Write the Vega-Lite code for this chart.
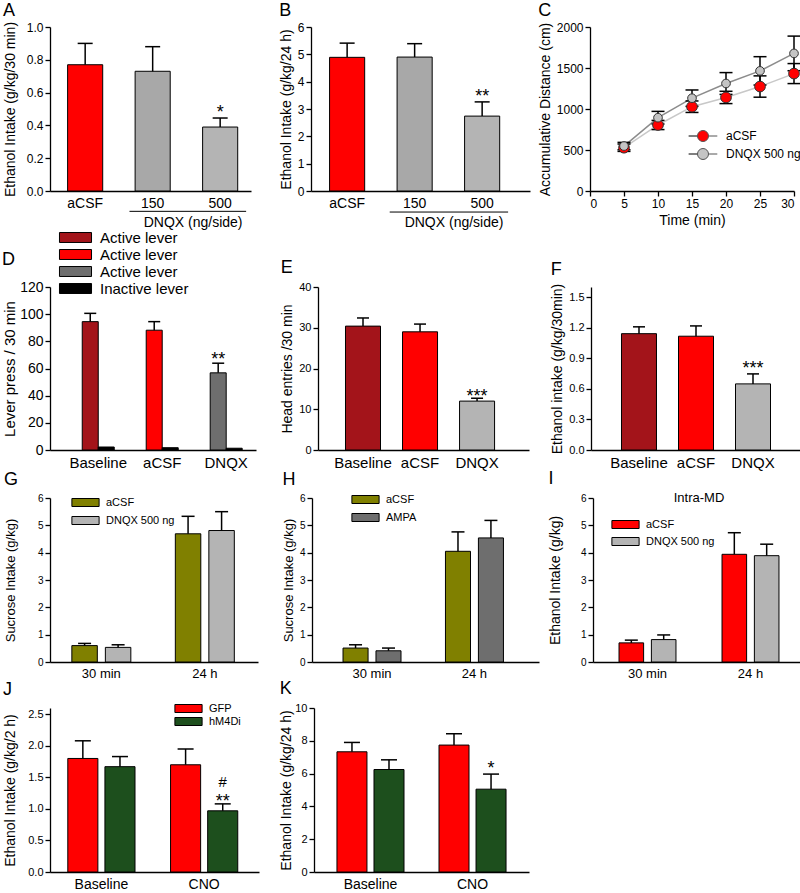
{
  "$schema": "https://vega.github.io/schema/vega-lite/v6.json",
  "padding": {"left": 2, "top": 2, "right": 0, "bottom": 0},
  "spacing": 0,
  "resolve": {"scale": {"fill": "independent", "stroke": "independent", "size": "independent", "xOffset": "independent"}, "legend": {"fill": "independent", "stroke": "independent", "size": "independent"}},
  "config": {
    "font": "Liberation Sans",
    "view": {"stroke": null},
    "axis": {"grid": false, "domainColor": "black", "domainWidth": 1.3, "tickColor": "black", "tickWidth": 1.3, "tickSize": 5, "labelColor": "black", "titleColor": "black", "titleFontWeight": "normal", "labelFontSize": 11, "titleFontSize": 14, "labelPadding": 2},
    "axisBand": {"ticks": false, "labelAngle": 0, "labelPadding": 5, "labelFontSize": 14},
    "title": {"fontSize": 18, "fontWeight": "normal", "anchor": "start", "frame": "bounds", "offset": 4, "color": "black"},
    "legend": {"labelColor": "black", "padding": 0, "titlePadding": 0},
    "bar": {"stroke": "black", "strokeWidth": 1},
    "tick": {"color": "black", "thickness": 1.5, "opacity": 1},
    "rule": {"color": "black", "strokeWidth": 1.5},
    "text": {"color": "black"}
  },
  "vconcat": [
    {
      "hconcat": [
        {
          "width": 201, "height": 164,
          "title": {"text": "A", "offset": 1},
          "data": {"values": [
            {"group": "aCSF", "mean": 0.77, "upper": 0.90},
            {"group": "150", "mean": 0.73, "upper": 0.88},
            {"group": "500", "mean": 0.39, "upper": 0.445, "sig": "*"}
          ]},
          "encoding": {"x": {"field": "group", "type": "nominal", "sort": null, "scale": {"paddingInner": 0.48, "paddingOuter": 0.229, "align": 0.57}, "axis": {"title": null}}},
          "layer": [
            {"mark": "bar", "encoding": {
              "y": {"field": "mean", "type": "quantitative", "scale": {"domain": [0, 1]}, "axis": {"title": "Ethanol Intake (g/kg/30 min)", "values": [0, 0.2, 0.4, 0.6, 0.8, 1], "format": ".1f", "labelFontSize": 12, "minExtent": 30, "maxExtent": 30, "titlePadding": 3}},
              "fill": {"field": "group", "type": "nominal", "scale": {"domain": ["aCSF", "150", "500"], "range": ["#ff0000", "#a8a8a8", "#b4b4b4"]}, "legend": null}}},
            {"mark": "rule", "encoding": {"y": {"field": "mean", "type": "quantitative", "axis": {"title": "Ethanol Intake (g/kg/30 min)", "values": [0, 0.2, 0.4, 0.6, 0.8, 1], "format": ".1f", "labelFontSize": 12, "minExtent": 30, "maxExtent": 30, "titlePadding": 3}}, "y2": {"field": "upper"}}},
            {"mark": {"type": "tick", "orient": "horizontal", "size": 15}, "encoding": {"y": {"field": "upper", "type": "quantitative", "axis": {"title": "Ethanol Intake (g/kg/30 min)", "values": [0, 0.2, 0.4, 0.6, 0.8, 1], "format": ".1f", "labelFontSize": 12, "minExtent": 30, "maxExtent": 30, "titlePadding": 3}}}},
            {"transform": [{"filter": "isValid(datum.sig)"}], "mark": {"type": "text", "fontSize": 18, "baseline": "alphabetic", "dy": 0}, "encoding": {"y": {"field": "upper", "type": "quantitative", "axis": {"title": "Ethanol Intake (g/kg/30 min)", "values": [0, 0.2, 0.4, 0.6, 0.8, 1], "format": ".1f", "labelFontSize": 12, "minExtent": 30, "maxExtent": 30, "titlePadding": 3}}, "text": {"field": "sig"}}},
            {"data": {"values": [{"label": "DNQX (ng/side)"}]}, "mark": {"type": "rule", "strokeWidth": 1}, "encoding": {"x": {"datum": "150", "bandPosition": -0.16}, "x2": {"datum": "500", "bandPosition": 1.24}, "y": {"datum": -0.124, "type": "quantitative", "axis": {"title": "Ethanol Intake (g/kg/30 min)", "values": [0, 0.2, 0.4, 0.6, 0.8, 1], "format": ".1f", "labelFontSize": 12, "minExtent": 30, "maxExtent": 30, "titlePadding": 3}}}},
            {"data": {"values": [{"label": "DNQX (ng/side)"}]}, "mark": {"type": "text", "baseline": "top", "fontSize": 14}, "encoding": {"x": {"datum": "500", "bandPosition": -0.27}, "y": {"datum": -0.15, "type": "quantitative", "axis": {"title": "Ethanol Intake (g/kg/30 min)", "values": [0, 0.2, 0.4, 0.6, 0.8, 1], "format": ".1f", "labelFontSize": 12, "minExtent": 30, "maxExtent": 30, "titlePadding": 3}}, "text": {"field": "label"}}}
          ]
        },
        {
          "width": 219, "height": 164,
          "title": {"text": "B", "offset": 1},
          "data": {"values": [
            {"group": "aCSF", "mean": 4.89, "upper": 5.41},
            {"group": "150", "mean": 4.90, "upper": 5.39},
            {"group": "500", "mean": 2.74, "upper": 3.26, "sig": "**"}
          ]},
          "encoding": {"x": {"field": "group", "type": "nominal", "sort": null, "scale": {"paddingInner": 0.48, "paddingOuter": 0.362, "align": 0.38}, "axis": {"title": null}}},
          "layer": [
            {"mark": "bar", "encoding": {
              "y": {"field": "mean", "type": "quantitative", "scale": {"domain": [0, 6]}, "axis": {"title": "Ethanol Intake (g/kg/24 h)", "values": [0, 1, 2, 3, 4, 5, 6], "labelFontSize": 12}},
              "fill": {"field": "group", "type": "nominal", "scale": {"domain": ["aCSF", "150", "500"], "range": ["#ff0000", "#a8a8a8", "#b4b4b4"]}, "legend": null}}},
            {"mark": "rule", "encoding": {"y": {"field": "mean", "type": "quantitative", "axis": {"title": "Ethanol Intake (g/kg/24 h)", "values": [0, 1, 2, 3, 4, 5, 6], "labelFontSize": 12}}, "y2": {"field": "upper"}}},
            {"mark": {"type": "tick", "orient": "horizontal", "size": 15}, "encoding": {"y": {"field": "upper", "type": "quantitative", "axis": {"title": "Ethanol Intake (g/kg/24 h)", "values": [0, 1, 2, 3, 4, 5, 6], "labelFontSize": 12}}}},
            {"transform": [{"filter": "isValid(datum.sig)"}], "mark": {"type": "text", "fontSize": 18, "baseline": "alphabetic", "dy": 0}, "encoding": {"y": {"field": "upper", "type": "quantitative", "axis": {"title": "Ethanol Intake (g/kg/24 h)", "values": [0, 1, 2, 3, 4, 5, 6], "labelFontSize": 12}}, "text": {"field": "sig"}}},
            {"data": {"values": [{"label": "DNQX (ng/side)"}]}, "mark": {"type": "rule", "strokeWidth": 1}, "encoding": {"x": {"datum": "150", "bandPosition": -0.21}, "x2": {"datum": "500", "bandPosition": 1.24}, "y": {"datum": -0.77, "type": "quantitative", "axis": {"title": "Ethanol Intake (g/kg/24 h)", "values": [0, 1, 2, 3, 4, 5, 6], "labelFontSize": 12}}}},
            {"data": {"values": [{"label": "DNQX (ng/side)"}]}, "mark": {"type": "text", "baseline": "top", "fontSize": 14}, "encoding": {"x": {"datum": "500", "bandPosition": -0.3}, "y": {"datum": -0.9, "type": "quantitative", "axis": {"title": "Ethanol Intake (g/kg/24 h)", "values": [0, 1, 2, 3, 4, 5, 6], "labelFontSize": 12}}, "text": {"field": "label"}}}
          ]
        },
        {
          "width": 204, "height": 164,
          "title": {"text": "C", "offset": 1},
          "data": {"values": [
            {"time": 5, "group": "aCSF", "mean": 528, "lower": 483, "upper": 573},
            {"time": 10, "group": "aCSF", "mean": 805, "lower": 749, "upper": 861},
            {"time": 15, "group": "aCSF", "mean": 1028, "lower": 958, "upper": 1098},
            {"time": 20, "group": "aCSF", "mean": 1141, "lower": 1066, "upper": 1216},
            {"time": 25, "group": "aCSF", "mean": 1274, "lower": 1144, "upper": 1404},
            {"time": 30, "group": "aCSF", "mean": 1432, "lower": 1310, "upper": 1554},
            {"time": 5, "group": "DNQX 500 ng", "mean": 548, "lower": 503, "upper": 593},
            {"time": 10, "group": "DNQX 500 ng", "mean": 894, "lower": 817, "upper": 971},
            {"time": 15, "group": "DNQX 500 ng", "mean": 1132, "lower": 1032, "upper": 1232},
            {"time": 20, "group": "DNQX 500 ng", "mean": 1311, "lower": 1178, "upper": 1444},
            {"time": 25, "group": "DNQX 500 ng", "mean": 1465, "lower": 1292, "upper": 1638},
            {"time": 30, "group": "DNQX 500 ng", "mean": 1678, "lower": 1467, "upper": 1889}
          ]},
          "encoding": {"x": {"field": "time", "type": "quantitative", "scale": {"domain": [0, 30]}, "axis": {"title": "Time (min)", "values": [0, 5, 10, 15, 20, 25, 30], "labelFontSize": 12, "titlePadding": 4}}},
          "layer": [
            {"transform": [{"filter": "datum.group == 'aCSF'"}], "mark": {"type": "line", "strokeWidth": 1.5, "stroke": "#c8c8c8"}, "encoding": {
              "y": {"field": "mean", "type": "quantitative", "scale": {"domain": [0, 2000]}, "axis": {"title": "Accumulative Distance (cm)", "values": [0, 500, 1000, 1500, 2000], "format": "d", "labelFontSize": 12}}}},
            {"transform": [{"filter": "datum.group == 'DNQX 500 ng'"}], "mark": {"type": "line", "strokeWidth": 1.5, "stroke": "#8c8c8c"}, "encoding": {
              "y": {"field": "mean", "type": "quantitative", "axis": {"title": "Accumulative Distance (cm)", "values": [0, 500, 1000, 1500, 2000], "format": "d", "labelFontSize": 12}}}},
            {"mark": "rule", "encoding": {"y": {"field": "lower", "type": "quantitative", "axis": {"title": "Accumulative Distance (cm)", "values": [0, 500, 1000, 1500, 2000], "format": "d", "labelFontSize": 12}}, "y2": {"field": "upper"}}},
            {"mark": {"type": "tick", "orient": "horizontal", "size": 13}, "encoding": {"y": {"field": "upper", "type": "quantitative", "axis": {"title": "Accumulative Distance (cm)", "values": [0, 500, 1000, 1500, 2000], "format": "d", "labelFontSize": 12}}}},
            {"mark": {"type": "tick", "orient": "horizontal", "size": 13}, "encoding": {"y": {"field": "lower", "type": "quantitative", "axis": {"title": "Accumulative Distance (cm)", "values": [0, 500, 1000, 1500, 2000], "format": "d", "labelFontSize": 12}}}},
            {"transform": [{"filter": "datum.group == 'aCSF'"}], "mark": {"type": "point", "filled": true, "opacity": 1, "stroke": "#333333", "strokeWidth": 1, "size": 115}, "encoding": {
              "y": {"field": "mean", "type": "quantitative", "axis": {"title": "Accumulative Distance (cm)", "values": [0, 500, 1000, 1500, 2000], "format": "d", "labelFontSize": 12}},
              "fill": {"field": "group", "type": "nominal", "scale": {"domain": ["aCSF", "DNQX 500 ng"], "range": ["#ff0000", "#c4c4c4"]}, "legend": {"title": null, "orient": "none", "legendX": 107, "legendY": 103, "symbolType": "M-2.6,0H-1A1,1 0 1,1 1,0A1,1 0 1,1 -1,0ZM1,0H2.6", "symbolSize": 121, "symbolStrokeColor": "#555555", "symbolStrokeWidth": 1, "labelFontSize": 12, "labelOffset": 17, "rowPadding": 2}}}},
            {"transform": [{"filter": "datum.group == 'DNQX 500 ng'"}], "mark": {"type": "point", "filled": true, "opacity": 1, "stroke": "#333333", "strokeWidth": 1, "size": 75}, "encoding": {
              "y": {"field": "mean", "type": "quantitative", "axis": {"title": "Accumulative Distance (cm)", "values": [0, 500, 1000, 1500, 2000], "format": "d", "labelFontSize": 12}},
              "fill": {"field": "group", "type": "nominal", "scale": {"domain": ["aCSF", "DNQX 500 ng"], "range": ["#ff0000", "#c4c4c4"]}, "legend": {"title": null, "orient": "none", "legendX": 107, "legendY": 103, "symbolType": "M-2.6,0H-1A1,1 0 1,1 1,0A1,1 0 1,1 -1,0ZM1,0H2.6", "symbolSize": 121, "symbolStrokeColor": "#555555", "symbolStrokeWidth": 1, "labelFontSize": 12, "labelOffset": 17, "rowPadding": 2}}}}
          ]
        }
      ],
      "spacing": 60,
      "bounds": "flush",
      "resolve": {"scale": {"fill": "independent", "stroke": "independent", "size": "independent", "xOffset": "independent"}, "legend": {"fill": "independent", "stroke": "independent", "size": "independent"}}
    },
    {
      "hconcat": [
        {
          "width": 206, "height": 163,
          "title": {"text": "D", "offset": -39},
          "data": {"values": [
            {"cond": "Baseline", "lever": "Active", "series": "Baseline active", "mean": 94.5, "upper": 100.6},
            {"cond": "Baseline", "lever": "Inactive", "series": "Inactive lever", "mean": 2.2},
            {"cond": "aCSF", "lever": "Active", "series": "aCSF active", "mean": 88.2, "upper": 94.5},
            {"cond": "aCSF", "lever": "Inactive", "series": "Inactive lever", "mean": 1.7},
            {"cond": "DNQX", "lever": "Active", "series": "DNQX active", "mean": 56.8, "upper": 63.9, "sig": "**"},
            {"cond": "DNQX", "lever": "Inactive", "series": "Inactive lever", "mean": 1.3}
          ]},
          "encoding": {
            "x": {"field": "cond", "type": "nominal", "sort": null, "scale": {"paddingInner": 0.5, "paddingOuter": 0.36, "align": 0.7}, "axis": {"title": null, "labelFontSize": 15}},
            "xOffset": {"field": "lever", "type": "nominal", "sort": null, "scale": {"paddingInner": 0, "paddingOuter": 0}}
          },
          "layer": [
            {"mark": "bar", "encoding": {
              "y": {"field": "mean", "type": "quantitative", "scale": {"domain": [0, 120]}, "axis": {"title": "Lever press / 30 min", "values": [0, 20, 40, 60, 80, 100, 120], "labelFontSize": 14, "titleFontSize": 15, "minExtent": 30, "maxExtent": 30, "titlePadding": 3}},
              "fill": {"field": "series", "type": "nominal", "scale": {"domain": ["Baseline active", "aCSF active", "DNQX active", "Inactive lever"], "range": ["#a3141a", "#ff0000", "#6e6e6e", "#000000"]}, "legend": {"title": null, "orient": "none", "legendX": 18, "legendY": -57, "symbolType": "M-2.29,-0.71H2.29V0.71H-2.29Z", "symbolSize": 196, "symbolStrokeColor": "black", "symbolStrokeWidth": 1, "labelFontSize": 15, "labelOffset": 17, "rowPadding": 1, "labelExpr": "datum.label == 'Inactive lever' ? 'Inactive lever' : 'Active lever'"}}}},
            {"transform": [{"filter": "isValid(datum.upper)"}], "mark": "rule", "encoding": {"y": {"field": "mean", "type": "quantitative", "axis": {"title": "Lever press / 30 min", "values": [0, 20, 40, 60, 80, 100, 120], "labelFontSize": 14, "titleFontSize": 15, "minExtent": 30, "maxExtent": 30, "titlePadding": 3}}, "y2": {"field": "upper"}}},
            {"transform": [{"filter": "isValid(datum.upper)"}], "mark": {"type": "tick", "orient": "horizontal", "size": 12}, "encoding": {"y": {"field": "upper", "type": "quantitative", "axis": {"title": "Lever press / 30 min", "values": [0, 20, 40, 60, 80, 100, 120], "labelFontSize": 14, "titleFontSize": 15, "minExtent": 30, "maxExtent": 30, "titlePadding": 3}}}},
            {"transform": [{"filter": "isValid(datum.sig)"}], "mark": {"type": "text", "fontSize": 18, "baseline": "alphabetic", "dy": 2}, "encoding": {"y": {"field": "upper", "type": "quantitative", "axis": {"title": "Lever press / 30 min", "values": [0, 20, 40, 60, 80, 100, 120], "labelFontSize": 14, "titleFontSize": 15, "minExtent": 30, "maxExtent": 30, "titlePadding": 3}}, "text": {"field": "sig"}}}
          ]
        },
        {
          "width": 211, "height": 163,
          "title": {"text": "E"},
          "data": {"values": [
            {"cond": "Baseline", "mean": 30.4, "upper": 32.4},
            {"cond": "aCSF", "mean": 29.0, "upper": 30.9},
            {"cond": "DNQX", "mean": 12.0, "upper": 12.7, "sig": "***"}
          ]},
          "encoding": {"x": {"field": "cond", "type": "nominal", "sort": null, "scale": {"paddingInner": 0.386, "paddingOuter": 0.543, "align": 0.444}, "axis": {"title": null, "labelFontSize": 15}}},
          "layer": [
            {"mark": "bar", "encoding": {
              "y": {"field": "mean", "type": "quantitative", "scale": {"domain": [0, 40]}, "axis": {"title": "Head entries /30 min", "values": [0, 10, 20, 30, 40], "labelFontSize": 11}},
              "fill": {"field": "cond", "type": "nominal", "scale": {"domain": ["Baseline", "aCSF", "DNQX"], "range": ["#a3141a", "#ff0000", "#b4b4b4"]}, "legend": null}}},
            {"mark": "rule", "encoding": {"y": {"field": "mean", "type": "quantitative", "axis": {"title": "Head entries /30 min", "values": [0, 10, 20, 30, 40], "labelFontSize": 11}}, "y2": {"field": "upper"}}},
            {"mark": {"type": "tick", "orient": "horizontal", "size": 12}, "encoding": {"y": {"field": "upper", "type": "quantitative", "axis": {"title": "Head entries /30 min", "values": [0, 10, 20, 30, 40], "labelFontSize": 11}}}},
            {"transform": [{"filter": "isValid(datum.sig)"}], "mark": {"type": "text", "fontSize": 18, "baseline": "alphabetic", "dy": 4}, "encoding": {"y": {"field": "upper", "type": "quantitative", "axis": {"title": "Head entries /30 min", "values": [0, 10, 20, 30, 40], "labelFontSize": 11}}, "text": {"field": "sig"}}}
          ]
        },
        {
          "width": 210, "height": 163,
          "title": {"text": "F"},
          "data": {"values": [
            {"cond": "Baseline", "mean": 1.142, "upper": 1.209},
            {"cond": "aCSF", "mean": 1.117, "upper": 1.218},
            {"cond": "DNQX", "mean": 0.649, "upper": 0.747, "sig": "***"}
          ]},
          "encoding": {"x": {"field": "cond", "type": "nominal", "sort": null, "scale": {"paddingInner": 0.386, "paddingOuter": 0.535, "align": 0.5}, "axis": {"title": null, "labelFontSize": 15}}},
          "layer": [
            {"mark": "bar", "encoding": {
              "y": {"field": "mean", "type": "quantitative", "scale": {"domain": [0, 1.5]}, "axis": {"title": "Ethanol intake (g/kg/30min)", "values": [0, 0.3, 0.6, 0.9, 1.2, 1.5], "format": ".1f", "labelFontSize": 11}},
              "fill": {"field": "cond", "type": "nominal", "scale": {"domain": ["Baseline", "aCSF", "DNQX"], "range": ["#a3141a", "#ff0000", "#b4b4b4"]}, "legend": null}}},
            {"mark": "rule", "encoding": {"y": {"field": "mean", "type": "quantitative", "axis": {"title": "Ethanol intake (g/kg/30min)", "values": [0, 0.3, 0.6, 0.9, 1.2, 1.5], "format": ".1f", "labelFontSize": 11}}, "y2": {"field": "upper"}}},
            {"mark": {"type": "tick", "orient": "horizontal", "size": 12}, "encoding": {"y": {"field": "upper", "type": "quantitative", "axis": {"title": "Ethanol intake (g/kg/30min)", "values": [0, 0.3, 0.6, 0.9, 1.2, 1.5], "format": ".1f", "labelFontSize": 11}}}},
            {"transform": [{"filter": "isValid(datum.sig)"}], "mark": {"type": "text", "fontSize": 18, "baseline": "alphabetic", "dy": 0}, "encoding": {"y": {"field": "upper", "type": "quantitative", "axis": {"title": "Ethanol intake (g/kg/30min)", "values": [0, 0.3, 0.6, 0.9, 1.2, 1.5], "format": ".1f", "labelFontSize": 11}}, "text": {"field": "sig"}}}
          ]
        }
      ],
      "spacing": 62,
      "bounds": "flush",
      "resolve": {"scale": {"fill": "independent", "stroke": "independent", "size": "independent", "xOffset": "independent"}, "legend": {"fill": "independent", "stroke": "independent", "size": "independent"}}
    },
    {
      "hconcat": [
        {
          "width": 208, "height": 164,
          "title": {"text": "G"},
          "data": {"values": [
            {"time": "30 min", "treat": "aCSF", "mean": 0.60, "upper": 0.68},
            {"time": "30 min", "treat": "DNQX 500 ng", "mean": 0.535, "upper": 0.63},
            {"time": "24 h", "treat": "aCSF", "mean": 4.69, "upper": 5.33},
            {"time": "24 h", "treat": "DNQX 500 ng", "mean": 4.81, "upper": 5.50}
          ]},
          "encoding": {
            "x": {"field": "time", "type": "nominal", "sort": null, "scale": {"paddingInner": 0.43, "paddingOuter": 0.22, "align": 0.48}, "axis": {"title": null, "labelFontSize": 13}},
            "xOffset": {"field": "treat", "type": "nominal", "sort": null, "scale": {"paddingInner": 0.24, "paddingOuter": 0}}
          },
          "layer": [
            {"mark": "bar", "encoding": {
              "y": {"field": "mean", "type": "quantitative", "scale": {"domain": [0, 6]}, "axis": {"title": "Sucrose Intake (g/kg)", "values": [0, 1, 2, 3, 4, 5, 6], "labelFontSize": 10, "titleFontSize": 13, "minExtent": 30, "maxExtent": 30, "titlePadding": 3}},
              "fill": {"field": "treat", "type": "nominal", "scale": {"domain": ["aCSF", "DNQX 500 ng"], "range": ["#808000", "#b4b4b4"]}, "legend": {"title": null, "orient": "none", "legendX": 30, "legendY": -1, "symbolType": "M-3.4,-1H3.4V1H-3.4Z", "symbolSize": 64, "symbolStrokeColor": "black", "symbolStrokeWidth": 1, "labelFontSize": 11, "labelOffset": 15, "rowPadding": 5}}}},
            {"mark": "rule", "encoding": {"y": {"field": "mean", "type": "quantitative", "axis": {"title": "Sucrose Intake (g/kg)", "values": [0, 1, 2, 3, 4, 5, 6], "labelFontSize": 10, "titleFontSize": 13, "minExtent": 30, "maxExtent": 30, "titlePadding": 3}}, "y2": {"field": "upper"}}},
            {"mark": {"type": "tick", "orient": "horizontal", "size": 13}, "encoding": {"y": {"field": "upper", "type": "quantitative", "axis": {"title": "Sucrose Intake (g/kg)", "values": [0, 1, 2, 3, 4, 5, 6], "labelFontSize": 10, "titleFontSize": 13, "minExtent": 30, "maxExtent": 30, "titlePadding": 3}}}}
          ]
        },
        {
          "width": 227, "height": 164,
          "title": {"text": "H"},
          "data": {"values": [
            {"time": "30 min", "treat": "aCSF", "mean": 0.51, "upper": 0.63},
            {"time": "30 min", "treat": "AMPA", "mean": 0.41, "upper": 0.51},
            {"time": "24 h", "treat": "aCSF", "mean": 4.05, "upper": 4.76},
            {"time": "24 h", "treat": "AMPA", "mean": 4.54, "upper": 5.18}
          ]},
          "encoding": {
            "x": {"field": "time", "type": "nominal", "sort": null, "scale": {"paddingInner": 0.434, "paddingOuter": 0.325, "align": 0.466}, "axis": {"title": null, "labelFontSize": 13}},
            "xOffset": {"field": "treat", "type": "nominal", "sort": null, "scale": {"paddingInner": 0.24, "paddingOuter": 0}}
          },
          "layer": [
            {"mark": "bar", "encoding": {
              "y": {"field": "mean", "type": "quantitative", "scale": {"domain": [0, 6]}, "axis": {"title": "Sucrose Intake (g/kg)", "values": [0, 1, 2, 3, 4, 5, 6], "labelFontSize": 10, "titleFontSize": 13}},
              "fill": {"field": "treat", "type": "nominal", "scale": {"domain": ["aCSF", "AMPA"], "range": ["#808000", "#6e6e6e"]}, "legend": {"title": null, "orient": "none", "legendX": 48, "legendY": -4, "symbolType": "M-3.4,-1H3.4V1H-3.4Z", "symbolSize": 64, "symbolStrokeColor": "black", "symbolStrokeWidth": 1, "labelFontSize": 11, "labelOffset": 15, "rowPadding": 5}}}},
            {"mark": "rule", "encoding": {"y": {"field": "mean", "type": "quantitative", "axis": {"title": "Sucrose Intake (g/kg)", "values": [0, 1, 2, 3, 4, 5, 6], "labelFontSize": 10, "titleFontSize": 13}}, "y2": {"field": "upper"}}},
            {"mark": {"type": "tick", "orient": "horizontal", "size": 13}, "encoding": {"y": {"field": "upper", "type": "quantitative", "axis": {"title": "Sucrose Intake (g/kg)", "values": [0, 1, 2, 3, 4, 5, 6], "labelFontSize": 10, "titleFontSize": 13}}}}
          ]
        },
        {
          "width": 210, "height": 164,
          "title": {"text": "I"},
          "data": {"values": [
            {"time": "30 min", "treat": "aCSF", "mean": 0.70, "upper": 0.80},
            {"time": "30 min", "treat": "DNQX 500 ng", "mean": 0.82, "upper": 0.99},
            {"time": "24 h", "treat": "aCSF", "mean": 3.94, "upper": 4.73},
            {"time": "24 h", "treat": "DNQX 500 ng", "mean": 3.89, "upper": 4.31}
          ]},
          "encoding": {
            "x": {"field": "time", "type": "nominal", "sort": null, "scale": {"paddingInner": 0.447, "paddingOuter": 0.243, "align": 0.52}, "axis": {"title": null, "labelFontSize": 13}}
          },
          "layer": [
            {"mark": "bar", "encoding": {
              "xOffset": {"field": "treat", "type": "nominal", "sort": null, "scale": {"paddingInner": 0.24, "paddingOuter": 0}},
              "y": {"field": "mean", "type": "quantitative", "scale": {"domain": [0, 6]}, "axis": {"title": "Ethanol Intake (g/kg)", "values": [0, 1, 2, 3, 4, 5, 6], "labelFontSize": 10, "titleFontSize": 14, "titlePadding": 18}},
              "fill": {"field": "treat", "type": "nominal", "scale": {"domain": ["aCSF", "DNQX 500 ng"], "range": ["#ff0000", "#b4b4b4"]}, "legend": {"title": null, "orient": "none", "legendX": 27, "legendY": 21, "symbolType": "M-3.4,-1H3.4V1H-3.4Z", "symbolSize": 64, "symbolStrokeColor": "black", "symbolStrokeWidth": 1, "labelFontSize": 11, "labelOffset": 15, "rowPadding": 4}}}},
            {"mark": "rule", "encoding": {"xOffset": {"field": "treat", "type": "nominal", "sort": null}, "y": {"field": "mean", "type": "quantitative", "axis": {"title": "Ethanol Intake (g/kg)", "values": [0, 1, 2, 3, 4, 5, 6], "labelFontSize": 10, "titleFontSize": 14, "titlePadding": 18}}, "y2": {"field": "upper"}}},
            {"mark": {"type": "tick", "orient": "horizontal", "size": 13}, "encoding": {"xOffset": {"field": "treat", "type": "nominal", "sort": null}, "y": {"field": "upper", "type": "quantitative", "axis": {"title": "Ethanol Intake (g/kg)", "values": [0, 1, 2, 3, 4, 5, 6], "labelFontSize": 10, "titleFontSize": 14, "titlePadding": 18}}}},
            {"data": {"values": [{"label": "Intra-MD"}]}, "mark": {"type": "text", "fontSize": 13, "baseline": "middle"}, "encoding": {"x": {"datum": "24 h", "bandPosition": -0.404}, "y": {"datum": 6, "type": "quantitative", "axis": {"title": "Ethanol Intake (g/kg)", "values": [0, 1, 2, 3, 4, 5, 6], "labelFontSize": 10, "titleFontSize": 14, "titlePadding": 18}}, "text": {"field": "label"}}}
          ]
        }
      ],
      "spacing": 54,
      "bounds": "flush",
      "resolve": {"scale": {"fill": "independent", "stroke": "independent", "size": "independent", "xOffset": "independent"}, "legend": {"fill": "independent", "stroke": "independent", "size": "independent"}}
    },
    {
      "hconcat": [
        {
          "width": 209, "height": 164,
          "title": {"text": "J"},
          "data": {"values": [
            {"cond": "Baseline", "virus": "GFP", "mean": 1.80, "upper": 2.08},
            {"cond": "Baseline", "virus": "hM4Di", "mean": 1.67, "upper": 1.83},
            {"cond": "CNO", "virus": "GFP", "mean": 1.70, "upper": 1.95},
            {"cond": "CNO", "virus": "hM4Di", "mean": 0.97, "upper": 1.08, "sig": "**", "sig2": "#"}
          ]},
          "encoding": {
            "x": {"field": "cond", "type": "nominal", "sort": null, "scale": {"paddingInner": 0.346, "paddingOuter": 0.19, "align": 0.456}, "axis": {"title": null, "labelFontSize": 14}},
            "xOffset": {"field": "virus", "type": "nominal", "sort": null, "scale": {"paddingInner": 0.19, "paddingOuter": 0}}
          },
          "layer": [
            {"mark": "bar", "encoding": {
              "y": {"field": "mean", "type": "quantitative", "scale": {"domain": [0, 2.5]}, "axis": {"title": "Ethanol Intake (g/kg/2 h)", "values": [0, 0.5, 1, 1.5, 2, 2.5], "format": ".1f", "labelFontSize": 11, "minExtent": 30, "maxExtent": 30, "titlePadding": 3}},
              "fill": {"field": "virus", "type": "nominal", "scale": {"domain": ["GFP", "hM4Di"], "range": ["#ff0000", "#1d4f1d"]}, "legend": {"title": null, "orient": "none", "legendX": 133, "legendY": -5, "symbolType": "M-3.4,-1H3.4V1H-3.4Z", "symbolSize": 64, "symbolStrokeColor": "black", "symbolStrokeWidth": 1, "labelFontSize": 11, "labelOffset": 15, "rowPadding": 0}}}},
            {"mark": "rule", "encoding": {"y": {"field": "mean", "type": "quantitative", "axis": {"title": "Ethanol Intake (g/kg/2 h)", "values": [0, 0.5, 1, 1.5, 2, 2.5], "format": ".1f", "labelFontSize": 11, "minExtent": 30, "maxExtent": 30, "titlePadding": 3}}, "y2": {"field": "upper"}}},
            {"mark": {"type": "tick", "orient": "horizontal", "size": 16}, "encoding": {"y": {"field": "upper", "type": "quantitative", "axis": {"title": "Ethanol Intake (g/kg/2 h)", "values": [0, 0.5, 1, 1.5, 2, 2.5], "format": ".1f", "labelFontSize": 11, "minExtent": 30, "maxExtent": 30, "titlePadding": 3}}}},
            {"transform": [{"filter": "isValid(datum.sig)"}], "mark": {"type": "text", "fontSize": 18, "baseline": "alphabetic", "dy": 3}, "encoding": {"y": {"field": "upper", "type": "quantitative", "axis": {"title": "Ethanol Intake (g/kg/2 h)", "values": [0, 0.5, 1, 1.5, 2, 2.5], "format": ".1f", "labelFontSize": 11, "minExtent": 30, "maxExtent": 30, "titlePadding": 3}}, "text": {"field": "sig"}}},
            {"transform": [{"filter": "isValid(datum.sig2)"}], "mark": {"type": "text", "fontSize": 15, "baseline": "alphabetic", "dy": -17}, "encoding": {"y": {"field": "upper", "type": "quantitative", "axis": {"title": "Ethanol Intake (g/kg/2 h)", "values": [0, 0.5, 1, 1.5, 2, 2.5], "format": ".1f", "labelFontSize": 11, "minExtent": 30, "maxExtent": 30, "titlePadding": 3}}, "text": {"field": "sig2"}}}
          ]
        },
        {
          "width": 215, "height": 164,
          "title": {"text": "K"},
          "data": {"values": [
            {"cond": "Baseline", "virus": "GFP", "mean": 7.33, "upper": 7.90},
            {"cond": "Baseline", "virus": "hM4Di", "mean": 6.25, "upper": 6.84},
            {"cond": "CNO", "virus": "GFP", "mean": 7.74, "upper": 8.43},
            {"cond": "CNO", "virus": "hM4Di", "mean": 5.05, "upper": 5.97, "sig": "*"}
          ]},
          "encoding": {
            "x": {"field": "cond", "type": "nominal", "sort": null, "scale": {"paddingInner": 0.343, "paddingOuter": 0.225, "align": 0.5}, "axis": {"title": null, "labelFontSize": 14}},
            "xOffset": {"field": "virus", "type": "nominal", "sort": null, "scale": {"paddingInner": 0.19, "paddingOuter": 0}}
          },
          "layer": [
            {"mark": "bar", "encoding": {
              "y": {"field": "mean", "type": "quantitative", "scale": {"domain": [0, 10]}, "axis": {"title": "Ethanol Intake (g/kg/24 h)", "values": [0, 2, 4, 6, 8, 10], "labelFontSize": 11, "titlePadding": 1}},
              "fill": {"field": "virus", "type": "nominal", "scale": {"domain": ["GFP", "hM4Di"], "range": ["#ff0000", "#1d4f1d"]}, "legend": null}}},
            {"mark": "rule", "encoding": {"y": {"field": "mean", "type": "quantitative", "axis": {"title": "Ethanol Intake (g/kg/24 h)", "values": [0, 2, 4, 6, 8, 10], "labelFontSize": 11, "titlePadding": 1}}, "y2": {"field": "upper"}}},
            {"mark": {"type": "tick", "orient": "horizontal", "size": 16}, "encoding": {"y": {"field": "upper", "type": "quantitative", "axis": {"title": "Ethanol Intake (g/kg/24 h)", "values": [0, 2, 4, 6, 8, 10], "labelFontSize": 11, "titlePadding": 1}}}},
            {"transform": [{"filter": "isValid(datum.sig)"}], "mark": {"type": "text", "fontSize": 18, "baseline": "alphabetic", "dy": 0}, "encoding": {"y": {"field": "upper", "type": "quantitative", "axis": {"title": "Ethanol Intake (g/kg/24 h)", "values": [0, 2, 4, 6, 8, 10], "labelFontSize": 11, "titlePadding": 1}}, "text": {"field": "sig"}}}
          ]
        }
      ],
      "spacing": 55,
      "bounds": "flush",
      "resolve": {"scale": {"fill": "independent", "stroke": "independent", "size": "independent", "xOffset": "independent"}, "legend": {"fill": "independent", "stroke": "independent", "size": "independent"}}
    }
  ]
}
